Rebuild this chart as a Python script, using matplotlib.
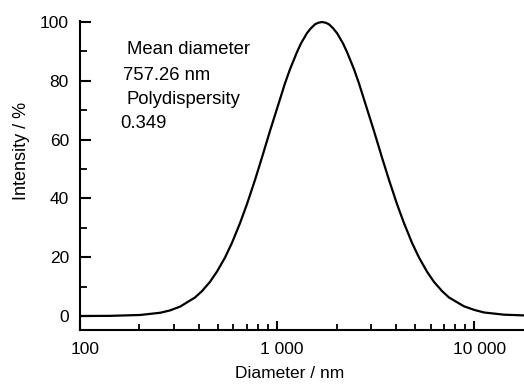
import matplotlib
matplotlib.use("Agg")
import matplotlib.pyplot as plt
import matplotlib.transforms as mtransforms
from matplotlib.ticker import FixedLocator, FuncFormatter, NullFormatter

plt.rcParams['font.family'] = ['Liberation Sans', 'DejaVu Sans']

# size distribution
diameter = [100, 142, 202, 255, 286, 322, 383, 416, 456, 495, 544, 590, 648,
            703, 772, 837, 919, 1095, 1161, 1261, 1320, 1416, 1484, 1555, 1610,
            1688, 1768, 1831, 1919, 2011, 2157, 2259, 2453, 2599, 3097, 3400,
            3689, 4050, 4395, 4826, 5237, 5749, 6240, 6849, 7433, 8857, 9955,
            11187, 14130, 17850]
intensity = [0.0, 0.05, 0.35, 1.1, 1.9, 3.2, 6.3, 8.5, 11.6, 15.1, 19.9, 24.9, 31.6,
             38.1, 46.3, 53.9, 62.9, 79.1, 83.9, 89.8, 92.7, 96.2, 97.9, 99.2, 99.7,
             100.0, 99.7, 99.2, 97.9, 96.2, 92.7, 89.8, 83.9, 79.1, 62.9, 53.9,
             46.3, 38.1, 31.6, 24.9, 19.9, 15.1, 11.6, 8.5, 6.3, 3.3, 2.1,
             1.2, 0.45, 0.2]

x_major = [100, 1000, 10000]
x_labels = ['100', '1 000', '10 000']
y_major = [0, 20, 40, 60, 80, 100]
y_minor = [10, 30, 50, 70, 90]

info_lines = [("Mean diameter", 127, 50), ("757.26 nm", 123, 75),
              ("Polydispersity", 127, 100), ("0.349", 120, 123)]

fig = plt.figure(figsize=(5.24, 3.84), dpi=100)
ax = fig.add_axes([80 / 524, 54 / 384, 444 / 524, 309.5 / 384])

ax.plot(diameter, intensity, color='black', lw=1.6, solid_capstyle='round',
        solid_joinstyle='round')

ax.set_xscale('log')
ax.set_xlim(100, 17850)
ax.set_ylim(-4.76, 100.5)

ax.xaxis.set_major_locator(FixedLocator(x_major))
ax.xaxis.set_major_formatter(FuncFormatter(lambda v, p: x_labels[x_major.index(v)] if v in x_major else ''))
ax.xaxis.set_minor_formatter(NullFormatter())
ax.yaxis.set_major_locator(FixedLocator(y_major))
ax.yaxis.set_minor_locator(FixedLocator(y_minor))

for s in ['top', 'right']:
    ax.spines[s].set_visible(False)
for s in ['left', 'bottom']:
    ax.spines[s].set_linewidth(1.5)

ax.tick_params(axis='x', which='major', direction='in', length=6.5, width=1.5, pad=9, labelsize=12.5)
ax.tick_params(axis='x', which='minor', direction='in', length=4, width=1.3)
ax.tick_params(axis='y', which='major', direction='in', length=8, width=1.5, pad=8, labelsize=12.5)
ax.tick_params(axis='y', which='minor', direction='in', length=5, width=1.3)

# x tick labels sit a bit to the right of their ticks in the original
shift = mtransforms.ScaledTranslation(5 / 100, 0, fig.dpi_scale_trans)
for lab in ax.get_xticklabels():
    lab.set_transform(lab.get_transform() + shift)

ax.set_xlabel('Diameter / nm', fontsize=12.5)
ax.xaxis.set_label_coords(0.473, -0.115)
ax.set_ylabel('Intensity / %', fontsize=13)
ax.yaxis.set_label_coords(-0.113, 0.578)

for txt, px, py in info_lines:
    fig.text(px / 524, 1 - py / 384, txt, fontsize=13.3, ha='left', va='center')

fig.savefig('out.png', dpi=100)
